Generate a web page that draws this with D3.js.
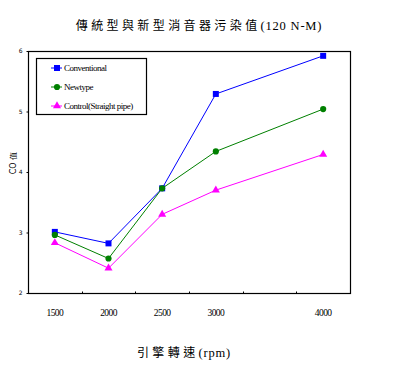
<!DOCTYPE html>
<html>
<head>
<meta charset="utf-8">
<script src="https://cdn.jsdelivr.net/npm/d3@7"></script>
<style>
  body { margin: 0; background: #fff; }
  svg { display: block; }
</style>
</head>
<body>
<div id="chart"></div>
<script>
const rpmCategories = ["1500", "2000", "2500", "3000", "3500", "4000"]
const rpmTickLabels = ["1500", "2000", "2500", "3000", "", "4000"]
const measuredRpm = ["1500", "2000", "2500", "3000", "4000"]
const conventional = [3.01, 2.82, 3.73, 5.29, 5.92]
const newtype = [2.96, 2.57, 3.73, 4.34, 5.04]
const control = [2.83, 2.41, 3.30, 3.70, 4.29]
const yTicks = [2, 3, 4, 5, 6]
const seriesNames = ["Conventional", "Newtype", "Control(Straight pipe)"]
const titleParts = ["傳統型與新型消音器污染值", "(120 N-M)"]
const xTitleParts = ["引擎轉速", "(rpm)"]

const width = 396, height = 369
const margin = {top: 51, right: 46, bottom: 76, left: 28}

const svg = d3.select("#chart").append("svg")
    .attr("width", width)
    .attr("height", height)

const x = d3.scaleBand()
    .domain(rpmCategories)
    .range([margin.left, width - margin.right])
    .padding(0)
const y = d3.scaleLinear()
    .domain([2, 6])
    .range([height - margin.bottom, margin.top])

const cx = d => x(d) + x.bandwidth() / 2

// frame
svg.append("rect")
    .attr("x", margin.left + 0.5)
    .attr("y", margin.top + 0.5)
    .attr("width", width - margin.left - margin.right)
    .attr("height", height - margin.top - margin.bottom)
    .attr("fill", "none")
    .attr("stroke", "#000")
    .attr("stroke-width", 1.2)

// x axis: ticks between bands, labels at centers
const xAxis = svg.append("g")
    .attr("transform", "translate(0," + (height - margin.bottom + 0.5) + ")")
xAxis.selectAll("line")
    .data(rpmCategories.slice(1))
    .join("line")
    .attr("x1", d => Math.round(x(d)) + 0.5)
    .attr("x2", d => Math.round(x(d)) + 0.5)
    .attr("y1", 0)
    .attr("y2", -2)
    .attr("stroke", "#000")
xAxis.selectAll("text")
    .data(rpmCategories)
    .join("text")
    .attr("x", d => cx(d))
    .attr("y", 22)
    .attr("text-anchor", "middle")
    .attr("font-family", "Liberation Serif")
    .attr("font-size", 9.5)
    .attr("letter-spacing", -0.6)
    .text((d, i) => rpmTickLabels[i])

// y axis
const yAxis = svg.append("g")
    .attr("transform", "translate(" + (margin.left + 0.5) + ",0)")
    .call(d3.axisLeft(y).tickValues(yTicks).tickSize(2).tickPadding(4).tickFormat(d3.format("d")))
yAxis.select(".domain").remove()
yAxis.selectAll("text")
    .attr("font-family", "DejaVu Sans")
    .attr("font-size", 6)
    .attr("fill", "#000")

svg.append("text")
    .attr("transform", "translate(16,163) rotate(-90)")
    .attr("text-anchor", "middle")
    .attr("font-family", "DejaVu Sans")
    .attr("font-size", 8)
    .text("CO 值")

// titles: spaced CJK part, tighter latin part
function spacedTitle(parts, xPos, yPos) {
    const t = svg.append("text")
        .attr("x", xPos)
        .attr("y", yPos)
        .attr("text-anchor", "middle")
        .attr("font-family", "Noto Sans CJK TC")
        .attr("font-size", 12)
    t.append("tspan").attr("letter-spacing", 3.4).text(parts[0])
    t.append("tspan").attr("font-family", "Liberation Serif").attr("font-size", 12.5)
        .attr("letter-spacing", 0.8).text(parts[1])
}
spacedTitle(titleParts, 199, 30)
spacedTitle(xTitleParts, 184, 357)

// series
const series = [
    {name: seriesNames[0], values: conventional, color: "#0000ff", shape: d3.symbolSquare, size: 36},
    {name: seriesNames[1], values: newtype, color: "#008000", shape: d3.symbolCircle, size: 30},
    {name: seriesNames[2], values: control, color: "#ff00ff", shape: d3.symbolTriangle, size: 28}
]

const line = d3.line()
    .x((d, i) => cx(measuredRpm[i]))
    .y(d => y(d))

series.forEach(s => {
    svg.append("path")
        .datum(s.values)
        .attr("fill", "none")
        .attr("stroke", s.color)
        .attr("stroke-width", 1)
        .attr("d", line)
    svg.append("g").selectAll("path")
        .data(s.values)
        .join("path")
        .attr("transform", (d, i) => "translate(" + cx(measuredRpm[i]) + "," + y(d) + ")")
        .attr("d", d3.symbol().type(s.shape).size(s.size))
        .attr("fill", s.color)
})

// legend
const legend = svg.append("g")
legend.append("rect")
    .attr("x", 36.5)
    .attr("y", 58.5)
    .attr("width", 110)
    .attr("height", 56)
    .attr("fill", "#fff")
    .attr("stroke", "#000")
    .attr("stroke-width", 1.2)
const legendRows = [68, 87, 106]
series.forEach((s, i) => {
    const g = legend.append("g").attr("transform", "translate(57," + legendRows[i] + ")")
    g.append("line")
        .attr("x1", -6).attr("x2", 5)
        .attr("stroke", s.color)
    g.append("path")
        .attr("d", d3.symbol().type(s.shape).size(s.size))
        .attr("fill", s.color)
    g.append("text")
        .attr("x", 7)
        .attr("y", 3)
        .attr("font-family", "Liberation Serif")
        .attr("font-size", 9)
        .attr("letter-spacing", -0.5)
        .text(s.name)
})
</script>
</body>
</html>
